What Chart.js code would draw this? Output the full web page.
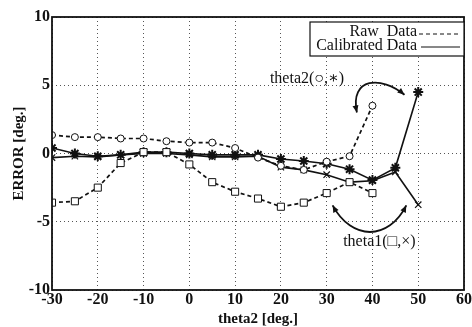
<!DOCTYPE html>
<html>
<head>
<meta charset="utf-8">
<script src="https://cdn.jsdelivr.net/npm/chart.js@4/dist/chart.umd.min.js"></script>
<style>
    html, body { margin: 0; padding: 0; background: #ffffff; }
    #wrap { width: 472px; height: 327px; }
</style>
</head>
<body>
<div id="wrap"><canvas id="error_chart" width="472" height="327"></canvas></div>
<script>
// theta2 angle (deg.) for each measurement
const angles = [-30, -25, -20, -15, -10, -5, 0, 5, 10, 15, 20, 25, 30, 35, 40, 45, 50];

// raw data (dashed) - only measured up to 40 deg.
const rawTheta2 = [1.35, 1.2, 1.2, 1.1, 1.1, 0.9, 0.8, 0.8, 0.4, -0.3, -0.9, -1.2, -0.6, -0.2, 3.5];
const rawTheta1 = [-3.6, -3.5, -2.5, -0.7, 0.1, 0.1, -0.8, -2.1, -2.8, -3.3, -3.9, -3.6, -2.9, -2.1, -2.9];

// calibrated data (solid)
const calTheta2 = [0.4, 0.0, -0.2, -0.1, 0.1, 0.1, 0.0, -0.1, -0.1, -0.1, -0.4, -0.55, -0.75, -1.15, -1.95, -1.05, 4.5];
const calTheta1 = [-0.3, -0.2, -0.25, -0.1, 0.0, 0.0, -0.1, -0.25, -0.25, -0.2, -1.0, -1.2, -1.55, -2.1, -2.0, -1.35, -3.75];

const xTicks = [-30, -20, -10, 0, 10, 20, 30, 40, 50, 60];
const yTicks = [-10, -5, 0, 5, 10];

// annotation labels and curved arrows, in data units
const noteTheta2 = { text: "theta2(\u25CB,\u2217)", x: 17.6, y: 5.5 };
const noteTheta1 = { text: "theta1(\u25A1,\u00D7)", x: 33.6, y: -6.5 };
const arrowTheta2 = [[47.0, 4.3], [42.0, 5.7], [35.0, 5.6], [36.6, 3.0]];
const arrowTheta1 = [[31.3, -3.8], [35.5, -6.4], [43.5, -6.4], [47.4, -3.8]];

const SERIF = "'Liberation Serif', 'DejaVu Serif', serif";

function toPoints(values) {
    return values.map((v, i) => ({ x: angles[i], y: v }));
}

function arrowHead(ctx, x, y, angle) {
    const len = 7, half = 3;
    ctx.save();
    ctx.translate(x, y);
    ctx.rotate(angle);
    ctx.beginPath();
    ctx.moveTo(0, 0);
    ctx.lineTo(-len, -half);
    ctx.lineTo(-len, half);
    ctx.closePath();
    ctx.fill();
    ctx.restore();
}

function drawCurvedArrow(ctx, xs, ys, pts) {
    const p = pts.map(q => [xs.getPixelForValue(q[0]), ys.getPixelForValue(q[1])]);
    ctx.beginPath();
    ctx.moveTo(p[0][0], p[0][1]);
    ctx.bezierCurveTo(p[1][0], p[1][1], p[2][0], p[2][1], p[3][0], p[3][1]);
    ctx.stroke();
    arrowHead(ctx, p[0][0], p[0][1], Math.atan2(p[0][1] - p[1][1], p[0][0] - p[1][0]));
    arrowHead(ctx, p[3][0], p[3][1], Math.atan2(p[3][1] - p[2][1], p[3][0] - p[2][0]));
}

const decorations = {
    id: "decorations",
    afterDatasetsDraw(chart) {
        const { ctx, chartArea: area } = chart;
        const xs = chart.scales.x;
        const ys = chart.scales.y;

        ctx.save();
        ctx.strokeStyle = "#111111";
        ctx.fillStyle = "#111111";

        // frame
        ctx.lineWidth = 1.8;
        ctx.strokeRect(area.left, area.top, area.right - area.left, area.bottom - area.top);

        // legend box
        const boxLeft = area.right - 154;
        const boxTop = area.top + 5;
        ctx.fillStyle = "#ffffff";
        ctx.fillRect(boxLeft, boxTop, 154, 34);
        ctx.lineWidth = 1.2;
        ctx.strokeRect(boxLeft, boxTop, 154, 34);

        ctx.fillStyle = "#111111";
        ctx.font = "16px " + SERIF;
        ctx.textAlign = "right";
        ctx.textBaseline = "middle";
        ctx.fillText("Raw  Data", area.right - 47, boxTop + 10);
        ctx.fillText("Calibrated Data", area.right - 47, boxTop + 24);

        ctx.lineWidth = 1;
        ctx.setLineDash([4, 3]);
        ctx.beginPath();
        ctx.moveTo(area.right - 45, boxTop + 12);
        ctx.lineTo(area.right - 4, boxTop + 12);
        ctx.stroke();
        ctx.setLineDash([]);
        ctx.beginPath();
        ctx.moveTo(area.right - 43, boxTop + 25);
        ctx.lineTo(area.right - 4, boxTop + 25);
        ctx.stroke();

        // notes
        ctx.textAlign = "left";
        ctx.fillText(noteTheta2.text, xs.getPixelForValue(noteTheta2.x), ys.getPixelForValue(noteTheta2.y));
        ctx.fillText(noteTheta1.text, xs.getPixelForValue(noteTheta1.x), ys.getPixelForValue(noteTheta1.y));

        ctx.lineWidth = 1.8;
        drawCurvedArrow(ctx, xs, ys, arrowTheta2);
        drawCurvedArrow(ctx, xs, ys, arrowTheta1);

        ctx.restore();
    }
};

function lineSet(label, values, dashed, style, radius, width) {
    return {
        label: label,
        data: toPoints(values),
        borderColor: "#111111",
        borderWidth: dashed ? 1.7 : 1.6,
        borderDash: dashed ? [4, 3] : [],
        pointStyle: style,
        pointRadius: radius,
        pointBorderWidth: width,
        pointBorderColor: "#111111",
        pointBackgroundColor: "#ffffff",
        fill: false,
        tension: 0
    };
}

new Chart(document.getElementById("error_chart"), {
    type: "line",
    data: {
        datasets: [
            lineSet("theta1 raw", rawTheta1, true, "rect", 5, 1),
            lineSet("theta2 raw", rawTheta2, true, "circle", 3.5, 1),
            lineSet("theta1 calibrated", calTheta1, false, "crossRot", 4.5, 1.2),
            lineSet("theta2 calibrated", calTheta2, false, "star", 5, 2)
        ]
    },
    options: {
        responsive: false,
        animation: false,
        devicePixelRatio: 1,
        layout: {
            padding: { top: 17, right: 6, left: 0, bottom: 0 }
        },
        scales: {
            x: {
                type: "linear",
                min: -30,
                max: 60,
                afterBuildTicks: scale => { scale.ticks = xTicks.map(v => ({ value: v })); },
                afterFit: scale => { scale.height = 37; },
                title: {
                    display: true,
                    text: "theta2 [deg.]",
                    color: "#111111",
                    padding: { top: 0, bottom: 0 },
                    font: { family: SERIF, size: 15, weight: "bold", lineHeight: 1.0 }
                },
                ticks: {
                    color: "#111111",
                    padding: 0,
                    maxRotation: 0,
                    font: { family: SERIF, size: 16, weight: "bold" }
                },
                grid: {
                    color: "#555555",
                    lineWidth: 1,
                    drawTicks: false
                },
                border: { display: false, dash: [1, 3] }
            },
            y: {
                min: -10,
                max: 10,
                afterBuildTicks: scale => { scale.ticks = yTicks.map(v => ({ value: v })); },
                afterFit: scale => { scale.width = 52; },
                title: {
                    display: true,
                    text: "ERROR [deg.]",
                    color: "#111111",
                    padding: { top: 10, bottom: 0 },
                    font: { family: SERIF, size: 15, weight: "bold" }
                },
                ticks: {
                    color: "#111111",
                    padding: 2,
                    font: { family: SERIF, size: 16, weight: "bold" }
                },
                grid: {
                    color: "#555555",
                    lineWidth: 1,
                    drawTicks: false
                },
                border: { display: false, dash: [1, 3] }
            }
        },
        plugins: {
            legend: { display: false },
            tooltip: { enabled: false }
        }
    },
    plugins: [decorations]
});
</script>
</body>
</html>
